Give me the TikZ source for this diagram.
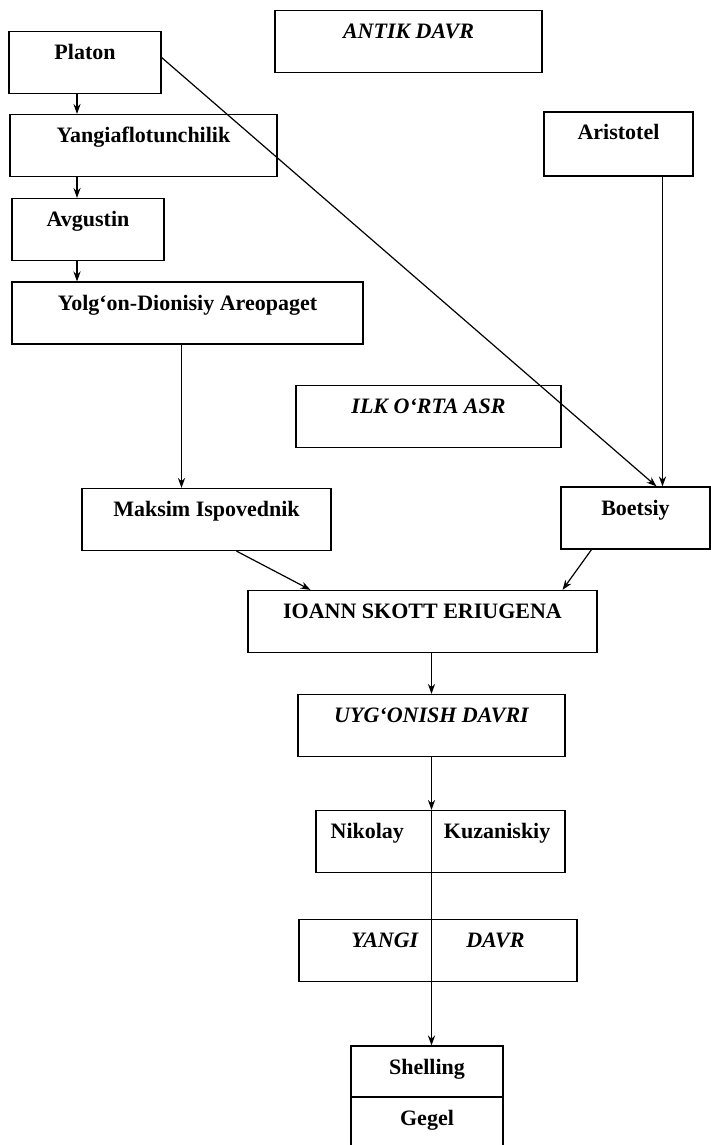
\documentclass[tikz,border=0pt]{standalone}
\usepackage{fontspec}
\setmainfont{Liberation Serif}
\usetikzlibrary{arrows.meta}

\begin{document}
\begin{tikzpicture}[x=0.5pt, y=-0.5pt,
  box/.style={draw, line width=0.6pt, inner sep=0pt, font=\fontsize{11}{13}\selectfont\bfseries,
    text height=14pt, text depth=17pt},
  era/.style={box, font=\fontsize{11}{13}\selectfont\bfseries\itshape},
  low/.style={box, text depth=11.5pt},
  arr/.style={-{Stealth[length=5pt,width=3.6pt]}, line width=0.6pt}]
\useasboundingbox (0,0) rectangle (711,1145);
\node[box, minimum width=76pt] (platon) at (85,62.5) {Platon};
\node[era, minimum width=133.5pt] (antik) at (408.5,41.5) {ANTIK DAVR};
\node[box, minimum width=74.5pt, text depth=18pt] (arist) at (618.5,144) {Aristotel};
\node[box, minimum width=133.5pt] (yangi) at (143.5,145.5) {Yangiaflotunchilik};
\node[box, minimum width=76pt] (avg) at (88,229.5) {Avgustin};
\node[box, minimum width=175.5pt] (yolgon) at (187.5,313) {Yolg‘on-Dionisiy Areopaget};
\node[era, minimum width=132.5pt] (ilk) at (428.5,416.5) {ILK O‘RTA ASR};
\node[box, minimum width=124.5pt] (maksim) at (206.5,519.5) {Maksim Ispovednik};
\node[box, minimum width=74.5pt] (boet) at (635.5,518) {Boetsiy};
\node[box, minimum width=174.5pt] (ioann) at (422.5,621.5) {IOANN SKOTT ERIUGENA};
\node[era, minimum width=133.5pt] (uyg) at (431.5,725.5) {UYG‘ONISH DAVRI};
\node[box, minimum width=124.5pt] (nik) at (440.5,841.5) {Nikolay\hspace{20pt}Kuzaniskiy};
\node[era, minimum width=139pt] (yangidavr) at (438,950.5) {YANGI\hspace{24pt}DAVR};
\node[low, minimum width=76pt] (shel) at (427,1071.5) {Shelling};
\node[low, minimum width=76pt] (gegel) at (427,1122.5) {Gegel};
\draw[arr] ([xshift=-4pt]platon.south) -- ([xshift=-4pt]platon.south |- yangi.north);
\draw[arr] ([xshift=-5.5pt]avg.north |- yangi.south) -- ([xshift=-5.5pt]avg.north);
\draw[arr] ([xshift=-5.5pt]avg.south) -- ([xshift=-5.5pt]avg.south |- yolgon.north);
\draw[arr] ([xshift=-3pt]yolgon.south) -- ([xshift=-3pt]yolgon.south |- maksim.north);
\draw[arr] ([yshift=2.5pt]platon.east) -- ([xshift=10.5pt]boet.north);
\draw[arr] ([xshift=22pt]arist.south) -- ([xshift=22pt]arist.south |- boet.north);
\draw[arr] ([xshift=15pt]maksim.south) -- ([xshift=-56pt]ioann.north);
\draw[arr] ([xshift=-22pt]boet.south) -- ([xshift=70pt]ioann.north);
\draw[arr] (uyg.north |- ioann.south) -- (uyg.north);
\draw[arr] (uyg.south) -- (uyg.south |- nik.north);
\draw[arr] (uyg.south |- nik.north) -- (uyg.south |- shel.north);
\end{tikzpicture}
\end{document}
